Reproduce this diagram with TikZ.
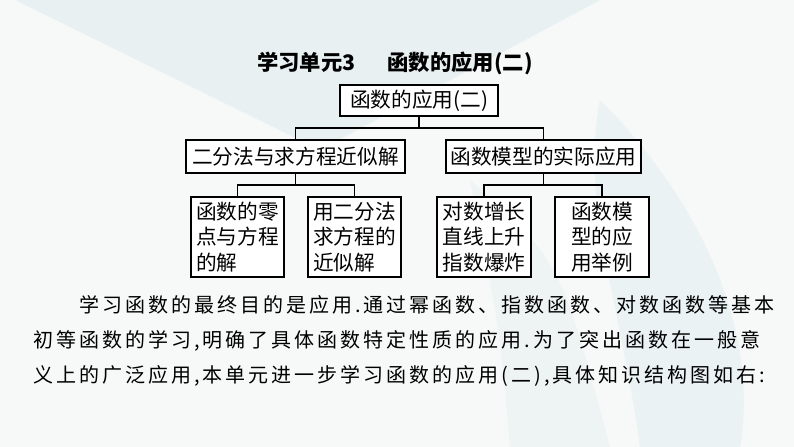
\documentclass[tikz,border=0pt]{standalone}
\usepackage{fontspec}
\newfontfamily\cjk{Noto Sans CJK SC}
\newfontfamily\cjkwide[LetterSpace=15]{Noto Sans CJK SC}
\definecolor{paper}{HTML}{F7F8F8}
\definecolor{tealbg}{HTML}{E2EEF0}

\begin{document}
\begin{tikzpicture}[x=0.75pt, y=-0.75pt,
        box/.style={draw, fill=white, line width=1.3pt, inner sep=0pt, font=\cjk\fontsize{15.5}{19}\selectfont},
        topbox/.style={box, minimum width=118.5pt, minimum height=23.25pt},
        midbox/.style={box, minimum height=24.75pt},
        leaf/.style={box, minimum width=70pt, minimum height=60pt, align=left},
        para/.style={anchor=base west, inner sep=0pt, font=\cjkwide\fontsize{15}{18}\selectfont},
        link/.style={line width=1.3pt}]
        \fill[paper] (0,0) rectangle (794,447);
        \fill[tealbg, opacity=0.7] (15,0) -- (600,0) -- (320,150) -- cycle;
        \fill[tealbg, opacity=0.6] (600,100) .. controls (700,200) and (760,330) .. (740,447) -- (640,447) .. controls (620,300) and (580,200) .. (600,100);
        \fill[tealbg, opacity=0.4] (470,180) .. controls (560,260) .. (610,447) -- (510,447) .. controls (500,330) .. (470,180);
        \useasboundingbox (0,0) rectangle (794,447);

        \node[font=\cjk\bfseries\fontsize{16}{19}\selectfont] (title) at (395,63) {学习单元3\hspace{1.5em}函数的应用(二)};
        \node[topbox] (root) at (419,100.5) {函数的应用(二)};
        \node[midbox, minimum width=164.25pt] (bisect) at (295.5,156.5) {二分法与求方程近似解};
        \node[midbox, minimum width=146.25pt] (model) at (543.5,156.5) {函数模型的实际应用};
        \node[leaf] (zero) at (237.5,237) {函数的零\\点与方程\\的解};
        \node[leaf] (approx) at (354.5,237) {用二分法\\求方程的\\近似解};
        \node[leaf] (growth) at (484,237) {对数增长\\直线上升\\指数爆炸};
        \node[leaf] (usage) at (602,237) {函数模\\型的应\\用举例};

        \draw[link] (root.south) -- ++(0,11) -| (bisect.north);
        \draw[link] (root.south) -- ++(0,11) -| (model.north);
        \draw[link] (bisect.south) -- ++(0,11) -| (zero.north);
        \draw[link] (bisect.south) -- ++(0,11) -| (approx.north);
        \draw[link] (model.south) -- ++(0,11) -| (growth.north);
        \draw[link] (model.south) -- ++(0,11) -| (usage.north);

        \node[para] (line1) at (79,312) {学习函数的最终目的是应用.通过幂函数、指数函数、对数函数等基本};
        \node[para] (line2) at (33,347) {初等函数的学习,明确了具体函数特定性质的应用.为了突出函数在一般意};
        \node[para] (line3) at (33,382) {义上的广泛应用,本单元进一步学习函数的应用(二),具体知识结构图如右:};

    \end{tikzpicture}
\end{document}
